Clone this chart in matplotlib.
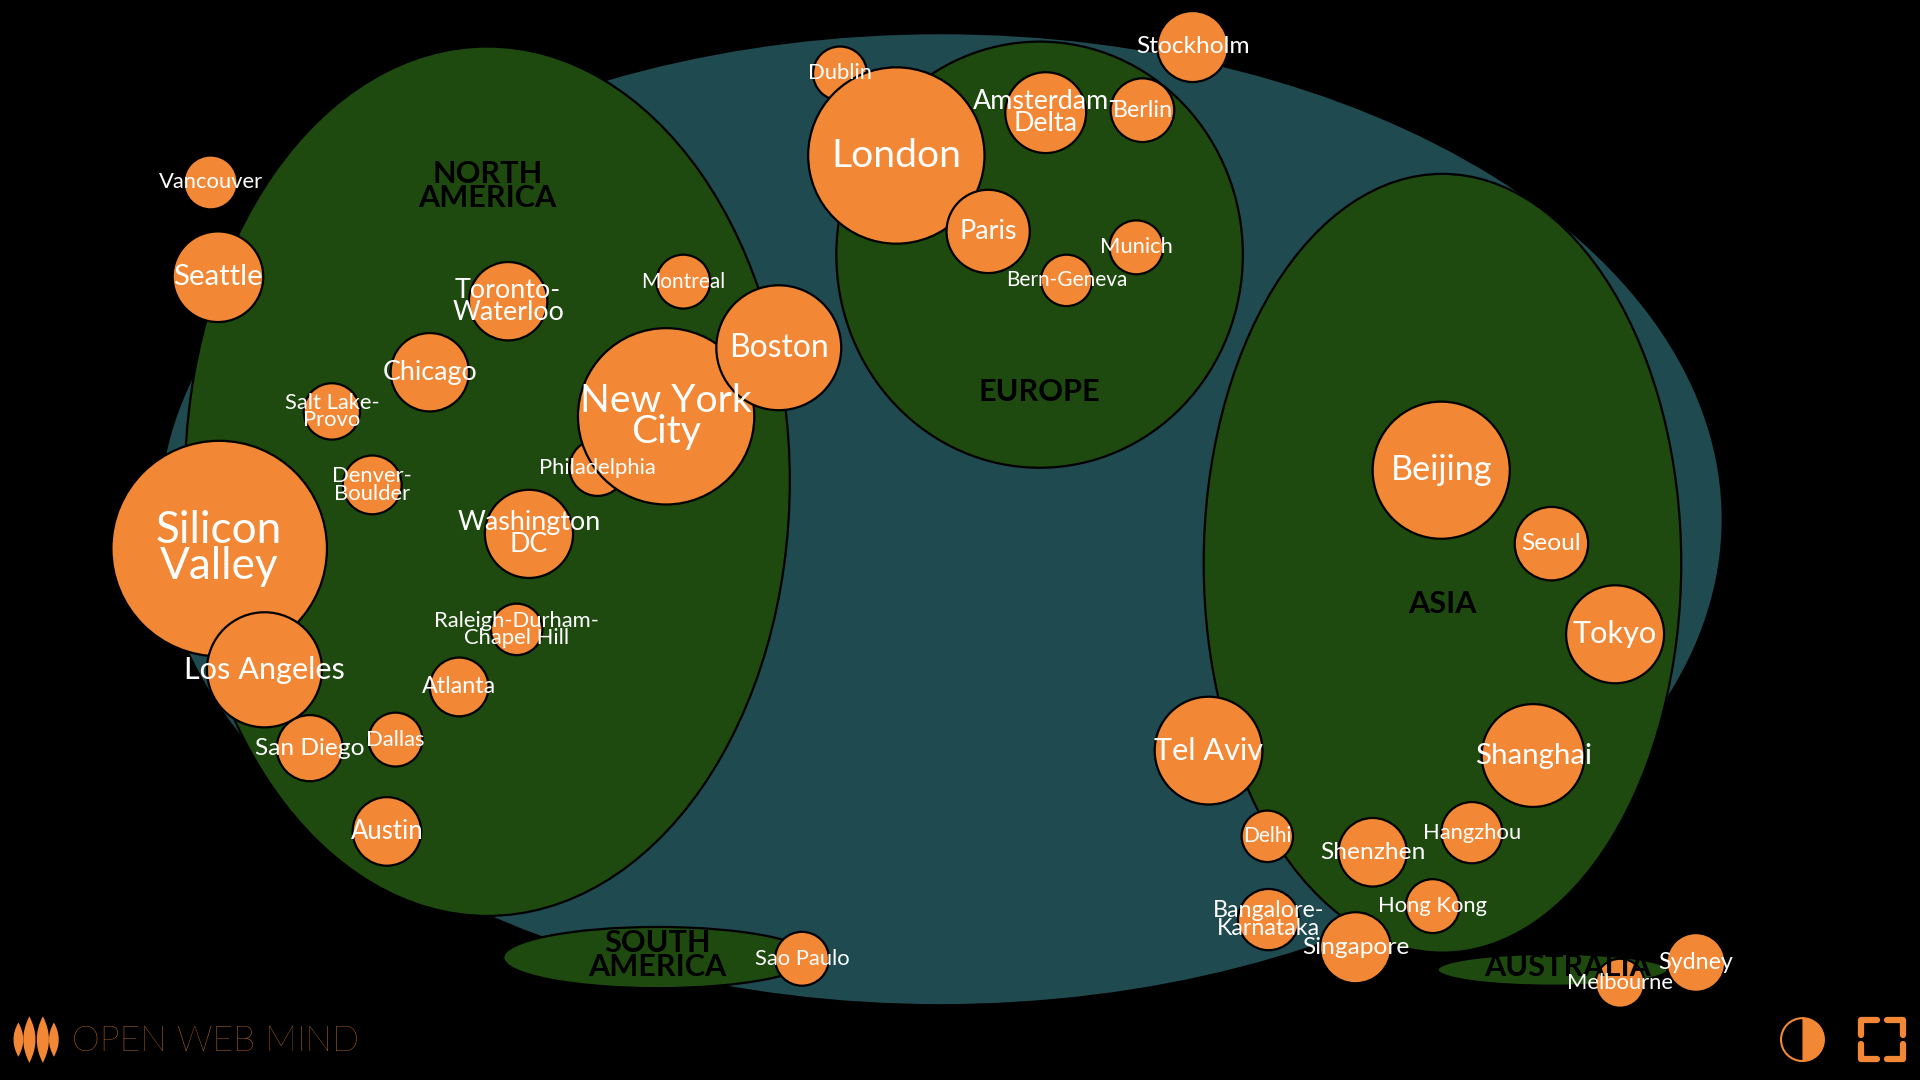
import matplotlib
matplotlib.use("Agg")
import matplotlib.pyplot as plt
from matplotlib.patches import Circle, Ellipse, PathPatch, Rectangle, Wedge
from matplotlib.path import Path

plt.rcParams['font.family'] = ['Lato', 'DejaVu Sans']

# all positions at 1568x882
cities = ["Vancouver", "Seattle", "Toronto-\nWaterloo", "Chicago", "Salt Lake-\nProvo", "Denver-\nBoulder",
          "Silicon\nValley", "Los Angeles", "San Diego", "Dallas", "Austin", "Atlanta",
          "Raleigh-Durham-\nChapel Hill", "Washington\nDC", "Philadelphia", "New York\nCity", "Boston", "Montreal",
          "Sao Paulo", "Dublin", "London", "Paris", "Amsterdam-\nDelta", "Berlin", "Stockholm", "Munich",
          "Bern-Geneva", "Beijing", "Seoul", "Tokyo", "Shanghai", "Tel Aviv", "Delhi", "Shenzhen", "Hangzhou",
          "Hong Kong", "Bangalore-\nKarnataka", "Singapore", "Sydney", "Melbourne"]
city_x = [172, 178, 415, 351, 271, 304, 179, 216, 253, 323, 316, 375, 422, 432, 488, 544, 636, 558,
          655, 686, 732, 807, 854, 933, 974, 928, 871, 1177, 1267, 1319, 1252, 987, 1035, 1121, 1202,
          1170, 1036, 1107, 1385, 1323]
city_y = [149, 226, 246, 304, 336, 396, 448, 547, 611, 604, 679, 561, 514, 436, 382, 340, 284, 230,
          783, 60, 127, 189, 92, 90, 38, 202, 229, 384, 444, 518, 617, 613, 683, 696, 680,
          740, 751, 774, 786, 803]
city_r = [22, 37, 32, 32, 23, 24, 88, 47, 27, 22, 28, 24, 21, 36, 23, 72, 51, 22,
          22, 22, 72, 34, 33, 26, 29, 22, 21, 56, 30, 40, 42, 44, 21, 28, 25,
          22, 25, 29, 24, 20]
label_px = [18, 24, 22, 22, 18, 18, 36, 25, 20, 18, 21, 19, 18, 22, 18, 32, 26, 17,
            18, 18, 32, 22, 22, 19, 20, 18, 17, 28, 20, 25, 24, 25, 17, 20, 18,
            18, 19, 20, 19, 18]

regions = ["NORTH\nAMERICA", "EUROPE", "ASIA", "SOUTH\nAMERICA", "AUSTRALIA"]
region_x = [398, 849, 1178, 537, 1268]
region_y = [393, 208, 460, 782, 792]
region_w = [247, 166, 195, 126, 94]
region_h = [355, 174, 318, 25, 13]
region_label_x = [398, 849, 1178, 537, 1280]
region_label_y = [152, 320, 493, 780, 790]

BG = "#000000"
WORLD = "#1f4a4f"
LAND = "#1e4a10"
ORANGE = "#f28835"
SCALE = 0.72 * 1920 / 1568  # font px at 1568 wide -> points at dpi 100


def lens(ax, cx, cy, w, h):
    verts = [(cx, cy - h), (cx + w * 2, cy), (cx, cy + h), (cx - w * 2, cy), (cx, cy - h)]
    verts = [verts[0], verts[1], verts[2], verts[3], verts[4]]
    codes = [Path.MOVETO, Path.CURVE3, Path.CURVE3, Path.CURVE3, Path.CURVE3]
    ax.add_patch(PathPatch(Path(verts, codes), fc=ORANGE, ec='none'))


fig = plt.figure(figsize=(19.2, 10.8), dpi=100, facecolor=BG)
ax = fig.add_axes([0, 0, 1, 1])
ax.set_xlim(0, 1568)
ax.set_ylim(882, 0)
ax.axis('off')

ax.add_patch(Ellipse((768, 424), 1276, 792, fc=WORLD, ec='none'))

for x, y, w, h in zip(region_x, region_y, region_w, region_h):
    ax.add_patch(Ellipse((x, y), w * 2, h * 2, fc=LAND, ec='black', lw=1.6))

for name, x, y in zip(regions, region_label_x, region_label_y):
    ax.text(x, y, name, color='black', fontsize=25 * SCALE, fontweight='bold', ha='center', va='center',
            linespacing=0.85)

for x, y, r in zip(city_x, city_y, city_r):
    ax.add_patch(Circle((x, y), r, fc=ORANGE, ec='black', lw=1.6))

for name, x, y, size in zip(cities, city_x, city_y, label_px):
    ax.text(x, y, name, color='white', fontsize=size * SCALE, ha='center', va='center', linespacing=0.85)

# logo
for cx, w, h in zip([21, 30, 41, 50], [4, 5, 5, 4], [14, 19, 19, 14]):
    lens(ax, cx - 6 if cx == 21 else cx - 6, 849, w, h)
ax.text(59, 858, "OPEN WEB MIND", color=ORANGE, fontsize=29 * SCALE, fontweight='light', ha='left', va='baseline')

# contrast button
ax.add_patch(Circle((1472, 849), 17.5, fc='none', ec=ORANGE, lw=1.5))
ax.add_patch(Wedge((1472, 849), 18, -90, 90, fc=ORANGE, ec='none'))

# fullscreen button
for px, py, dx, dy in [(1520, 833, 1, 1), (1554, 833, -1, 1), (1520, 865, 1, -1), (1554, 865, -1, -1)]:
    ax.plot([px, px, px + dx * 13], [py + dy * 12, py, py], color=ORANGE, lw=4.5, solid_capstyle='round',
            solid_joinstyle='round')

fig.savefig("out.png", dpi=100, facecolor=BG)
